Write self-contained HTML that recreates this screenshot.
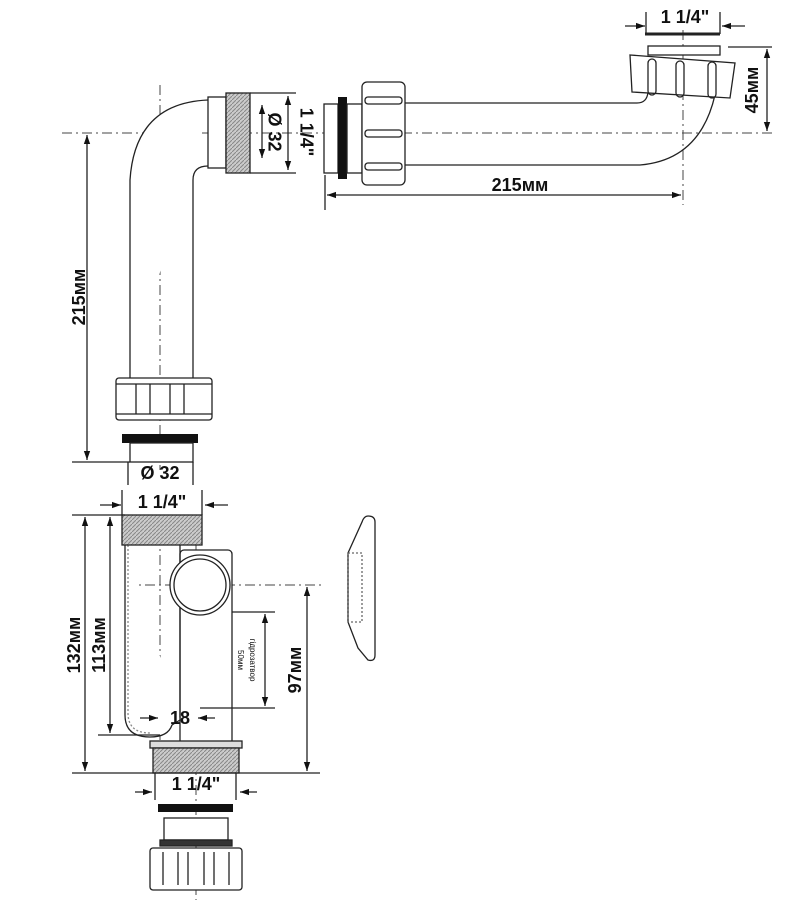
<!DOCTYPE html>
<html><head><meta charset="utf-8"><style>
html,body{margin:0;padding:0;background:#fff;}
svg{display:block}
text{font-family:"Liberation Sans",sans-serif;font-weight:bold;fill:#111}
</style></head><body>
<svg width="794" height="908" viewBox="0 0 794 908" xmlns="http://www.w3.org/2000/svg">
<defs>
<marker id="a" viewBox="0 0 10 10" refX="10" refY="5" markerWidth="7" markerHeight="7" orient="auto-start-reverse"><path d="M0,1.5 L10,5 L0,8.5z" fill="#111"/></marker>
<pattern id="th" width="4" height="4" patternUnits="userSpaceOnUse"><rect width="4" height="4" fill="#ccc"/><path d="M0,4 L4,0" stroke="#888" stroke-width="1"/></pattern>
</defs>
<g fill="none" stroke="#222" stroke-width="1.3">
<g stroke="#444" stroke-width="1" stroke-dasharray="10,4,2,4">
<line x1="62" y1="133" x2="772" y2="133"/>
<line x1="160" y1="85" x2="160" y2="470"/>
<line x1="683" y1="30" x2="683" y2="205"/>
<line x1="125" y1="585" x2="325" y2="585"/>
<line x1="160" y1="515" x2="160" y2="740"/>
<line x1="196" y1="545" x2="196" y2="900"/>
</g>
<path d="M130,380 L130,180 Q135,103 208,100" fill="#fff"/>
<path d="M193,380 L193,180 Q193,166 208,166"/>
<rect x="208" y="97" width="18" height="71" fill="#fff"/>
<rect x="226" y="93" width="24" height="80" fill="url(#th)"/>
<rect x="116" y="378" width="96" height="42" rx="3" fill="#fff"/>
<line x1="116" y1="384" x2="212" y2="384"/><line x1="116" y1="414" x2="212" y2="414"/>
<line x1="136" y1="384" x2="136" y2="414"/><line x1="150" y1="384" x2="150" y2="414"/><line x1="170" y1="384" x2="170" y2="414"/><line x1="184" y1="384" x2="184" y2="414"/>
<rect x="122" y="434" width="76" height="9" fill="#111" stroke="none"/>
<rect x="130" y="443" width="63" height="19" fill="#fff"/>
<line x1="72" y1="462" x2="130" y2="462"/>
<line x1="87" y1="135" x2="87" y2="460" marker-start="url(#a)" marker-end="url(#a)"/>
<line x1="250" y1="93" x2="296" y2="93"/><line x1="250" y1="173" x2="296" y2="173"/>
<line x1="262" y1="105" x2="262" y2="158" marker-start="url(#a)" marker-end="url(#a)"/>
<line x1="288" y1="96" x2="288" y2="170" marker-start="url(#a)" marker-end="url(#a)"/>
<line x1="128" y1="462" x2="128" y2="485"/><line x1="193" y1="462" x2="193" y2="485"/>
<rect x="324" y="104" width="14" height="69" fill="#fff"/>
<rect x="338" y="97" width="9" height="82" fill="#111" stroke="none"/>
<rect x="347" y="104" width="15" height="69" fill="#fff"/>
<rect x="362" y="82" width="43" height="103" rx="5" fill="#fff"/>
<rect x="365" y="97" width="37" height="7" rx="3"/><rect x="365" y="130" width="37" height="7" rx="3"/><rect x="365" y="163" width="37" height="7" rx="3"/>
<path d="M405,103 L637,103 Q647,103 648,92"/>
<path d="M405,165 L640,165 Q700,160 715,95"/>
<path d="M630,55 L735,63 L730,98 L632,92 Z" fill="#fff"/>
<rect x="648" y="59" width="8" height="36" rx="4"/><rect x="676" y="61" width="8" height="36" rx="4"/><rect x="708" y="62" width="8" height="36" rx="4"/>
<rect x="648" y="46" width="72" height="9" fill="#fff"/>
<line x1="645" y1="34" x2="720" y2="34" stroke-width="3"/>
<line x1="325" y1="175" x2="325" y2="210"/>
<line x1="327" y1="195" x2="681" y2="195" marker-start="url(#a)" marker-end="url(#a)"/>
<line x1="728" y1="47" x2="772" y2="47"/>
<line x1="767" y1="49" x2="767" y2="131" marker-start="url(#a)" marker-end="url(#a)"/>
<line x1="625" y1="26" x2="645" y2="26" marker-end="url(#a)"/><line x1="745" y1="26" x2="722" y2="26" marker-end="url(#a)"/>
<line x1="646" y1="12" x2="646" y2="34"/><line x1="720" y1="12" x2="720" y2="34"/>
<rect x="180" y="550" width="52" height="195" rx="4" fill="#fff"/>
<path d="M125,545 L125,715 Q125,737 150,737 Q168,737 172,725 L180,720" fill="#fff"/>
<line x1="180" y1="545" x2="180" y2="720"/>
<path d="M128,545 L128,713 Q128,733 150,733" stroke="#888" stroke-dasharray="2,2"/>
<circle cx="200" cy="585" r="30" fill="#fff"/><circle cx="200" cy="585" r="26"/>
<rect x="122" y="515" width="80" height="30" fill="url(#th)"/>
<rect x="150" y="741" width="92" height="7" fill="#ddd"/>
<rect x="153" y="748" width="86" height="25" fill="url(#th)"/>
<line x1="72" y1="515" x2="125" y2="515"/>
<line x1="72" y1="773" x2="320" y2="773"/>
<line x1="98" y1="735" x2="160" y2="735"/>
<line x1="85" y1="517" x2="85" y2="771" marker-start="url(#a)" marker-end="url(#a)"/>
<line x1="110" y1="517" x2="110" y2="733" marker-start="url(#a)" marker-end="url(#a)"/>
<line x1="307" y1="587" x2="307" y2="771" marker-start="url(#a)" marker-end="url(#a)"/>
<line x1="232" y1="612" x2="275" y2="612"/><line x1="200" y1="708" x2="275" y2="708"/>
<line x1="265" y1="614" x2="265" y2="706" marker-start="url(#a)" marker-end="url(#a)"/>
<line x1="140" y1="718" x2="158" y2="718" marker-end="url(#a)"/><line x1="215" y1="718" x2="198" y2="718" marker-end="url(#a)"/>
<line x1="100" y1="505" x2="121" y2="505" marker-end="url(#a)"/><line x1="228" y1="505" x2="205" y2="505" marker-end="url(#a)"/>
<line x1="122" y1="490" x2="122" y2="515"/><line x1="202" y1="490" x2="202" y2="515"/>
<line x1="135" y1="792" x2="152" y2="792" marker-end="url(#a)"/><line x1="257" y1="792" x2="240" y2="792" marker-end="url(#a)"/>
<line x1="155" y1="773" x2="155" y2="800"/><line x1="236" y1="773" x2="236" y2="800"/>
<rect x="158" y="804" width="75" height="8" fill="#111" stroke="none"/>
<rect x="164" y="818" width="64" height="22" fill="#fff"/>
<rect x="160" y="840" width="72" height="6" fill="#333"/>
<rect x="150" y="848" width="92" height="42" rx="3" fill="#fff"/>
<line x1="163" y1="852" x2="163" y2="885"/><line x1="178" y1="852" x2="178" y2="885"/><line x1="188" y1="852" x2="188" y2="885"/><line x1="204" y1="852" x2="204" y2="885"/><line x1="214" y1="852" x2="214" y2="885"/><line x1="229" y1="852" x2="229" y2="885"/>
<path d="M368,516 Q375,516 375,522 L375,655 Q375,662 368,660 L358,648 L348,622 L348,553 L362,522 Q364,516 368,516 Z" fill="#fff"/>
<rect x="348" y="553" width="14" height="69" stroke="#666" stroke-dasharray="2,2"/>
</g>
<text x="80" y="297" font-size="18" transform="rotate(-90 80 297)" text-anchor="middle" dominant-baseline="middle">215мм</text>
<text x="273" y="132" font-size="18" transform="rotate(90 273 132)" text-anchor="middle" dominant-baseline="middle">Ø 32</text>
<text x="305" y="132" font-size="18" transform="rotate(90 305 132)" text-anchor="middle" dominant-baseline="middle">1 1/4"</text>
<text x="160" y="479" font-size="18" text-anchor="middle">Ø 32</text>
<text x="162" y="508" font-size="18" text-anchor="middle">1 1/4"</text>
<text x="520" y="191" font-size="18" text-anchor="middle">215мм</text>
<text x="685" y="23" font-size="18" text-anchor="middle">1 1/4"</text>
<text x="753" y="90" font-size="18" transform="rotate(-90 753 90)" text-anchor="middle" dominant-baseline="middle">45мм</text>
<text x="75" y="645" font-size="18" transform="rotate(-90 75 645)" text-anchor="middle" dominant-baseline="middle">132мм</text>
<text x="100" y="645" font-size="18" transform="rotate(-90 100 645)" text-anchor="middle" dominant-baseline="middle">113мм</text>
<text x="296" y="670" font-size="18" transform="rotate(-90 296 670)" text-anchor="middle" dominant-baseline="middle">97мм</text>
<text x="240" y="660" font-size="8" transform="rotate(90 240 660)" text-anchor="middle" dominant-baseline="middle" style="font-weight:normal">50мм</text>
<text x="252" y="660" font-size="8" transform="rotate(90 252 660)" text-anchor="middle" dominant-baseline="middle" style="font-weight:normal">гідрозатвор</text>
<text x="180" y="724" font-size="18" text-anchor="middle">18</text>
<text x="196" y="790" font-size="18" text-anchor="middle">1 1/4"</text>
</svg>
</body></html>
